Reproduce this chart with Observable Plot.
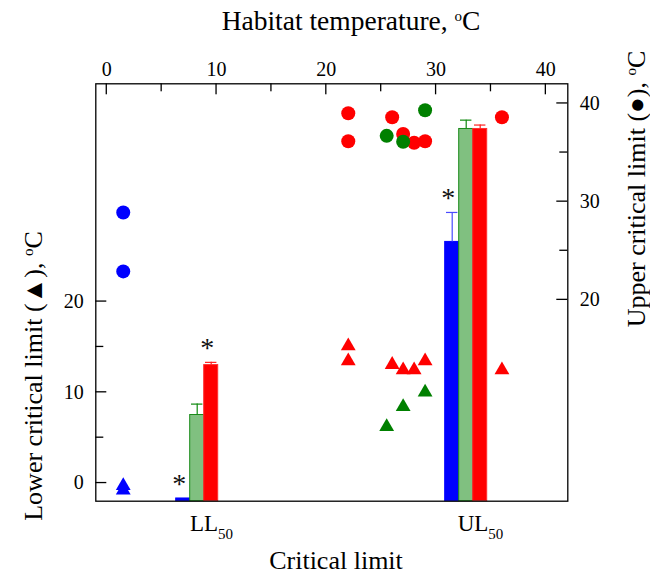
<!DOCTYPE html>
<html><head><meta charset="utf-8">
<script src="https://cdn.jsdelivr.net/npm/d3@7"></script>
<script src="https://cdn.jsdelivr.net/npm/@observablehq/plot@0.6"></script>
<style>
body{margin:0;background:#fff;}
#chart{width:650px;height:575px;}
</style></head><body><div id="chart"></div>
<script>
// ---------- data ----------
const TOP_TICKS = [0, 10, 20, 30, 40];
const TOP_MINOR = [5, 15, 25, 35];
const LEFT_TICKS = [0, 10, 20];
const LEFT_MINOR = [5, 15];
const RIGHT_TICKS = [20, 30, 40];
const RIGHT_MINOR = [25, 35];

const LIMITS = ["LL50", "UL50"];
const GROUPS = ["Group 1", "Group 2", "Group 3"];
const LL_MEAN = [-1.7, 7.5, 13.0];
const LL_ERR  = [null, 8.7, 13.3];
const LL_SIG  = [true, false, true];
const UL_MEAN = [25.9, 37.4, 37.4];
const UL_ERR  = [28.9, 38.3, 37.8];
const UL_SIG  = [true, false, false];

// sites: habitat temperature, lower limit (triangle), upper limit (circle)
const SITE_GROUP = ["Group 1","Group 1",
  "Group 3","Group 3","Group 3","Group 3","Group 3","Group 3","Group 3",
  "Group 2","Group 2","Group 2"];
const SITE_TEMP = [1.5, 1.5, 22, 22, 26, 27, 28, 29, 36, 25.5, 27, 29];
const SITE_LL   = [-0.3, -0.8, 15.1, 13.45, 13.05, 12.46, 12.46, 13.45, 12.46, 6.2, 8.4, 10.0];
const SITE_UL   = [28.9, 22.9, 39.0, 36.15, 38.6, 36.9, 36.0, 36.15, 38.6, 36.7, 36.1, 39.3];

// ---------- styles ----------
const DOT_COLORS = {"Group 1": "#0000FF", "Group 2": "#008000", "Group 3": "#FF0000"};
const BAR_FILL   = {"Group 1": "#0000FF", "Group 2": "#80C080", "Group 3": "#FF0000"};
const BAR_STROKE = {"Group 1": "#0000FF", "Group 2": "#1a8a1a", "Group 3": "#FF3030"};
const ERR_COLOR  = {"Group 1": "#4a4aff", "Group 2": "#108a10", "Group 3": "#FF2020"};

const sites = SITE_TEMP.map((t, i) => ({group: SITE_GROUP[i], temp: t, ll: SITE_LL[i], ul: SITE_UL[i]}));
const llData = GROUPS.map((g, i) => ({limit: "LL50", group: g, mean: LL_MEAN[i], err: LL_ERR[i], sig: LL_SIG[i]}));
const ulData = GROUPS.map((g, i) => ({limit: "UL50", group: g, mean: UL_MEAN[i], err: UL_ERR[i], sig: UL_SIG[i]}));

const W = 650, H = 575;
const M = {top: 83.3, right: 82.7, bottom: 74.3, left: 95.3};
const FW = W - M.left - M.right, FH = H - M.top - M.bottom;
const MAJOR = 11, MINOR = 8, HALF = 0.65;
const FONT = "Liberation Serif, serif";
const common = {
  width: W, height: H,
  marginTop: M.top, marginRight: M.right, marginBottom: M.bottom, marginLeft: M.left
};
const X_DOMAIN = [-1, 42];
const YL_DOMAIN = [-2, 44];
const YR_DOMAIN = [-0.5, 42];
const FX = {domain: LIMITS, paddingInner: 0.837, paddingOuter: 0.293, axis: null};

// inward tick marks drawn as thin filled rects (with rule fallback)
function vTicks(vals, len, useRect) {
  return useRect
    ? Plot.rect(vals, {x1: d => d, x2: d => d, insetLeft: -HALF, insetRight: -HALF, insetBottom: FH - len, fill: "black"})
    : Plot.ruleX(vals, {x: d => d, insetBottom: FH - len, stroke: "black", strokeWidth: 1.3});
}
function hTicks(vals, len, side, useRect) {
  const inset = side === "left" ? {insetRight: FW - len} : {insetLeft: FW - len};
  return useRect
    ? Plot.rect(vals, {y1: d => d, y2: d => d, insetTop: -HALF, insetBottom: -HALF, ...inset, fill: "black"})
    : Plot.ruleY(vals, {y: d => d, ...inset, stroke: "black", strokeWidth: 1.3});
}

function buildP1(useRect) {
  return Plot.plot({
    ...common,
    x: {domain: X_DOMAIN},
    y: {domain: YL_DOMAIN},
    marks: [
      Plot.axisX(TOP_TICKS, {anchor: "top", tickSize: 0, tickPadding: 8, label: null}),
      vTicks(TOP_TICKS, MAJOR, useRect),
      vTicks(TOP_MINOR, MINOR, useRect),
      Plot.axisY(LEFT_TICKS, {anchor: "left", tickSize: 0, tickPadding: 12, label: null}),
      hTicks(LEFT_TICKS, MAJOR, "left", useRect),
      hTicks(LEFT_MINOR, MINOR, "left", useRect),
      Plot.dot(sites, {x: "temp", y: "ll", symbol: "triangle", r: 5.5, fill: d => DOT_COLORS[d.group], stroke: "none"}),
      Plot.frame({stroke: "black", strokeWidth: 1.3})
    ]
  });
}
function buildP2(useRect) {
  return Plot.plot({
    ...common,
    x: {domain: X_DOMAIN, axis: null},
    y: {domain: YR_DOMAIN},
    marks: [
      Plot.axisY(RIGHT_TICKS, {anchor: "right", tickSize: 0, tickPadding: 12, label: null}),
      hTicks(RIGHT_TICKS, MAJOR, "right", useRect),
      hTicks(RIGHT_MINOR, MINOR, "right", useRect),
      Plot.dot(sites, {x: "temp", y: "ul", r: 7, fill: d => DOT_COLORS[d.group], stroke: "none"})
    ]
  });
}
let p1, p2;
try { p1 = buildP1(true); p2 = buildP2(true); }
catch (e) { p1 = buildP1(false); p2 = buildP2(false); }

function barMarks(data, yDomain) {
  const withErr = data.filter(d => d.err != null);
  return [
    Plot.barY(data, {fx: "limit", x: "group", y1: yDomain[0], y2: "mean",
      fill: d => BAR_FILL[d.group], stroke: d => BAR_STROKE[d.group], strokeWidth: 1}),
    Plot.ruleX(withErr, {fx: "limit", x: "group", y1: "mean", y2: "err", stroke: d => ERR_COLOR[d.group], strokeWidth: 1.2}),
    Plot.tickY(withErr, {fx: "limit", x: "group", y: "err", stroke: d => ERR_COLOR[d.group], strokeWidth: 1.2, inset: 1.3}),
    Plot.text(data.filter(d => d.sig), {fx: "limit", x: "group", y: d => d.err ?? d.mean, text: () => "*",
      fontSize: 28, dy: -14, dx: -4, fill: "#111"})
  ];
}

// LL bars (left scale) + bottom category axis
const p3 = Plot.plot({
  ...common,
  fx: FX,
  x: {domain: GROUPS, padding: 0, axis: null},
  y: {domain: YL_DOMAIN, axis: null},
  marks: [
    Plot.axisFx({anchor: "bottom", tickSize: 0, tickPadding: 13, label: null, fontSize: 23, dx: 14}),
    ...barMarks(llData, YL_DOMAIN)
  ]
});

// UL bars (right scale)
const p4 = Plot.plot({
  ...common,
  fx: FX,
  x: {domain: GROUPS, padding: 0, axis: null},
  y: {domain: YR_DOMAIN, axis: null},
  marks: barMarks(ulData, YR_DOMAIN)
});

// subscript "50" on category labels
d3.select(p3).selectAll('[aria-label="fx-axis tick label"] text').each(function() {
  const t = d3.select(this);
  const s = t.text();
  t.text(null);
  t.append("tspan").text(s.slice(0, 2));
  t.append("tspan").attr("dy", 8).attr("font-size", 15).text(s.slice(2));
});

// merge all layers into one SVG
const frameG = p1.querySelector('[aria-label="frame"]');
[p2, p3, p4].forEach(p => {
  Array.from(p.children).forEach(ch => {
    if (ch.tagName.toLowerCase() !== "style") p1.appendChild(ch);
  });
});
if (frameG) p1.appendChild(frameG);

const svg = d3.select(p1).attr("font-family", FONT).attr("font-size", 20);

// axis titles
function degreeLabel(sel, before) {
  sel.append("tspan").text(before);
  sel.append("tspan").attr("font-size", 15).attr("dy", -9).text("o");
  sel.append("tspan").attr("dy", 9).text("C");
}
const g = svg.append("g").attr("font-family", FONT).attr("font-size", 26).attr("fill", "black");
degreeLabel(g.append("text").attr("x", 351).attr("y", 30).attr("text-anchor", "middle").attr("font-size", 27.5), "Habitat temperature, ");
g.append("text").attr("x", 336).attr("y", 569).attr("text-anchor", "middle").text("Critical limit");
degreeLabel(g.append("text").attr("transform", "translate(42,376) rotate(-90)").attr("text-anchor", "middle"), "Lower critical limit (\u25B2), ");
degreeLabel(g.append("text").attr("transform", "translate(645,189) rotate(-90)").attr("text-anchor", "middle"), "Upper critical limit (\u25CF), ");

document.getElementById("chart").appendChild(p1);
</script>
</body></html>
